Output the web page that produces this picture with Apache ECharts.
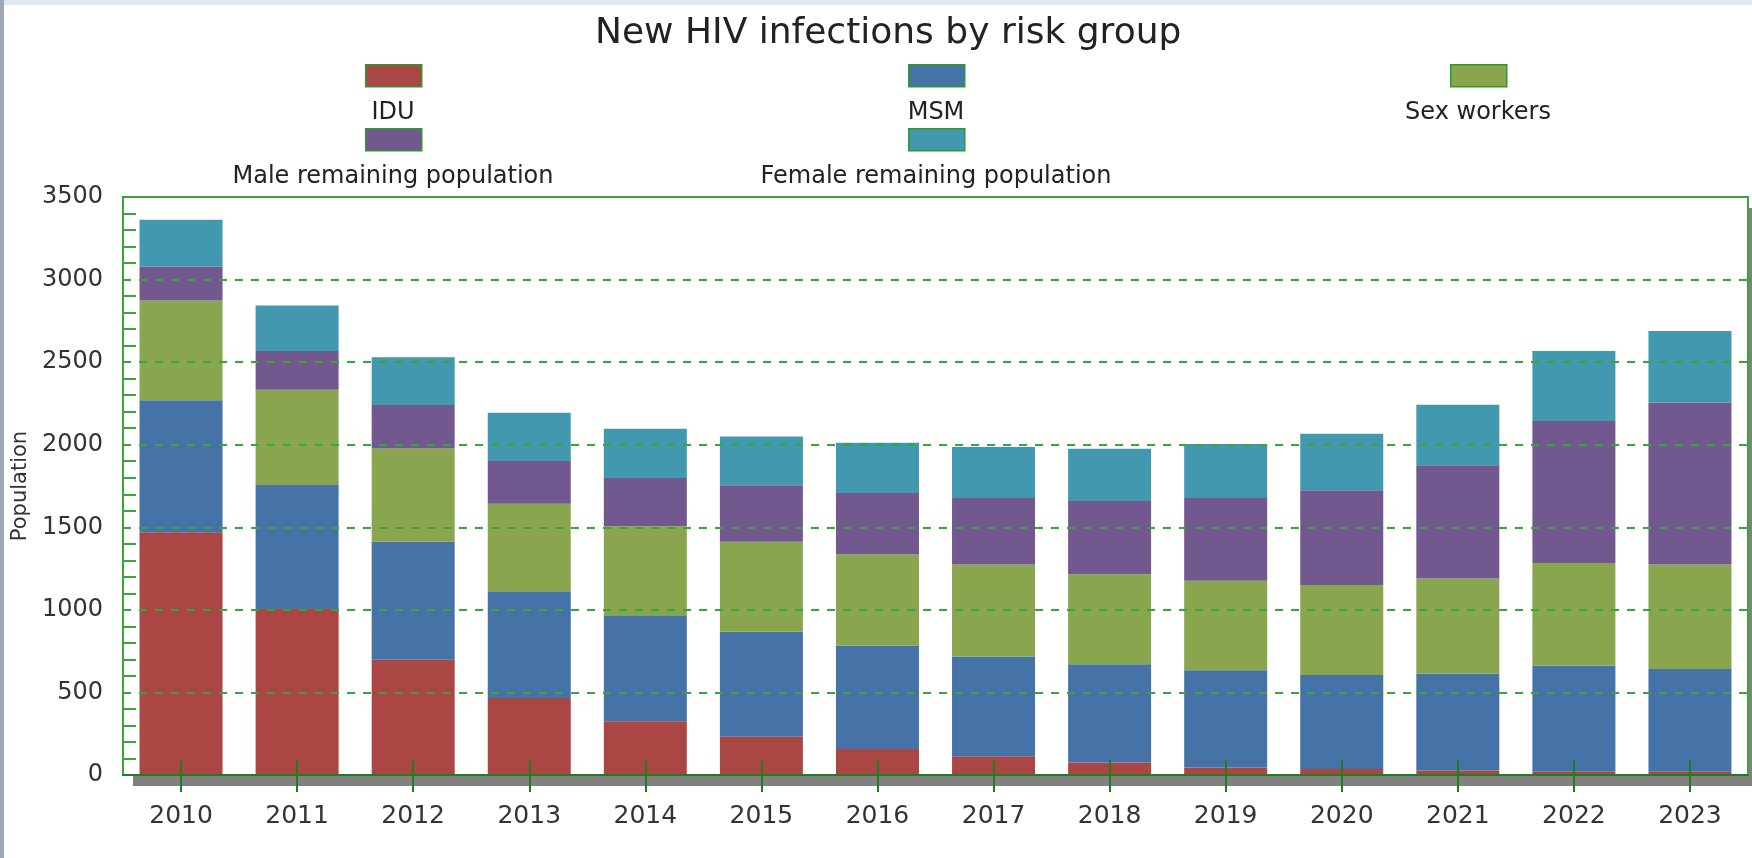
<!DOCTYPE html>
<html>
<head>
<meta charset="utf-8">
<script src="https://cdn.jsdelivr.net/npm/echarts@6/dist/echarts.min.js"></script>
<style>
  html, body { margin: 0; padding: 0; }
  body {
    width: 1752px; height: 858px; overflow: hidden; position: relative;
    background: linear-gradient(to right, #9ea8b3 0, #9ea8b3 4px, #dde9f5 4px);
  }
  #paper { position: absolute; left: 4px; top: 5px; right: 0; bottom: 0; background: #fff; }
  #chart { position: absolute; left: 0; top: 0; width: 1752px; height: 858px; }
</style>
</head>
<body>
<div id="paper"></div>
<div id="chart"></div>
<script>
const years = ["2010", "2011", "2012", "2013", "2014", "2015", "2016",
  "2017", "2018", "2019", "2020", "2021", "2022", "2023"];

const idu = [1470, 1005, 698, 467, 325, 232, 158, 113, 75, 46, 36, 28, 20, 20];
const msm = [800, 751, 715, 646, 643, 635, 626, 604, 596, 588, 570, 586, 643, 622];
const sexWorkers = [604, 577, 564, 529, 538, 546, 553, 557, 544, 543, 544, 576, 621, 632];
const maleRemaining = [204, 235, 264, 259, 292, 341, 370, 403, 444, 500, 575, 685, 859, 981];
const femaleRemaining = [284, 275, 289, 293, 299, 296, 305, 309, 317, 327, 341, 367, 425, 433];

const seriesNames = ["IDU", "MSM", "Sex workers", "Male remaining population", "Female remaining population"];
const seriesColors = ["#aa4643", "#4572a7", "#89a54e", "#71588f", "#4198af"];
const seriesData = [idu, msm, sexWorkers, maleRemaining, femaleRemaining];

const font = "DejaVu Sans";
const green = "#3aa63a";
const darkGreen = "#1f7f1f";

// legend is laid out as a 3-column grid, icon above label
const legendCols = [393, 936, 1478];
const legendIconTop = [64, 128];
const legendLabelY = [113, 177];

// plot rectangle, shared by the shadow grid and the framed grid
const plot = { left: 123, right: 4, top: 197, bottom: 83 };

const chart = echarts.init(document.getElementById("chart"));

const legends = seriesNames.map((name, i) => ({
  data: [name],
  left: legendCols[i % 3] - 28,
  top: legendIconTop[Math.floor(i / 3)],
  padding: 0,
  itemWidth: 56,
  itemHeight: 22,
  icon: "rect",
  selectedMode: false,
  formatter: () => "",
  itemStyle: { borderColor: "#2e9a2e", borderWidth: 1.5 },
}));

const legendLabels = seriesNames.map((name, i) => ({
  type: "text",
  x: legendCols[i % 3],
  y: legendLabelY[Math.floor(i / 3)],
  style: {
    text: name,
    align: "center",
    verticalAlign: "middle",
    font: `24px "${font}"`,
    fill: "#222",
  },
}));

const option = {
  animation: false,
  title: {
    text: "New HIV infections by risk group",
    left: 595,
    top: 16,
    padding: 0,
    textStyle: { fontFamily: font, fontSize: 36, fontWeight: "normal", color: "#222" },
  },
  legend: legends,
  graphic: legendLabels,
  grid: [
    // grey drop shadow under the plot
    Object.assign({}, plot, {
      show: true,
      backgroundColor: "#fff",
      borderWidth: 0,
      shadowColor: "#808080",
      shadowOffsetX: 10,
      shadowOffsetY: 11,
      shadowBlur: 0,
    }),
    // green frame
    Object.assign({}, plot, {
      show: true,
      backgroundColor: "transparent",
      borderColor: green,
      borderWidth: 2,
    }),
  ],
  xAxis: [
    {
      type: "category",
      data: years,
      gridIndex: 0,
      z: 10,
      axisLine: { lineStyle: { color: darkGreen, width: 2 } },
      axisTick: { show: true, interval: 0, alignWithLabel: true, inside: true, length: 15, lineStyle: { color: darkGreen, width: 2 } },
      axisLabel: { margin: 29, fontFamily: font, fontSize: 25, color: "#333" },
    },
    {
      type: "category",
      data: years,
      gridIndex: 0,
      position: "bottom",
      z: 10,
      axisLine: { show: false },
      axisTick: { show: true, interval: 0, alignWithLabel: true, length: 17, lineStyle: { color: darkGreen, width: 2 } },
      axisLabel: { show: false },
    },
    {
      type: "category",
      data: years,
      gridIndex: 1,
      show: false,
    },
  ],
  yAxis: [
    {
      type: "value",
      gridIndex: 0,
      min: 0,
      max: 3500,
      interval: 500,
      z: 10,
      name: "Population",
      nameLocation: "middle",
      nameGap: 90,
      nameTextStyle: { fontFamily: font, fontSize: 21, color: "#333" },
      axisLine: { show: true, lineStyle: { color: green, width: 2 } },
      axisTick: { length: 14, lineStyle: { color: green, width: 2 } },
      axisLabel: { margin: 20, fontFamily: font, fontSize: 24, color: "#333", formatter: (v) => String(v) },
      splitLine: { lineStyle: { color: green, width: 2, type: [8, 8] } },
    },
    {
      type: "value",
      gridIndex: 0,
      min: 0,
      max: 3500,
      interval: 500,
      position: "left",
      z: 10,
      axisLine: { show: false },
      axisTick: { show: false, inside: true },
      axisLabel: { show: false },
      splitLine: { show: false },
      minorTick: { show: true, splitNumber: 5, length: 13, lineStyle: { color: green, width: 2 } },
    },
    {
      type: "value",
      gridIndex: 1,
      min: 0,
      max: 3500,
      show: false,
    },
  ],
  series: seriesNames.map((name, i) => ({
    name: name,
    type: "bar",
    stack: "total",
    barWidth: 83,
    xAxisIndex: 0,
    yAxisIndex: 0,
    data: seriesData[i],
    itemStyle: { color: seriesColors[i] },
  })),
};

chart.setOption(option);
</script>
</body>
</html>
